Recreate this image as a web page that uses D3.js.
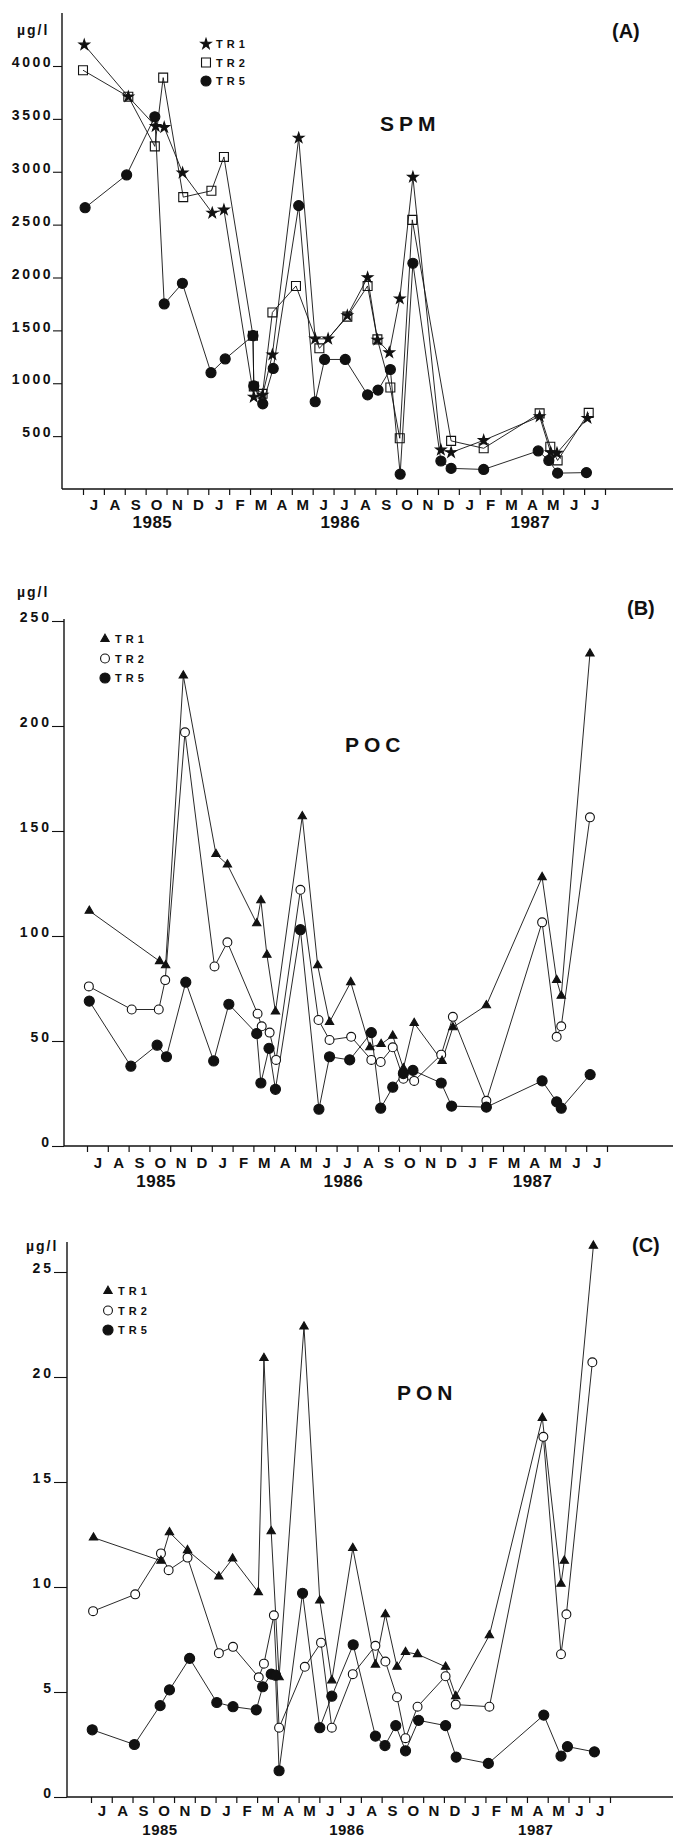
<!DOCTYPE html>
<html>
<head>
<meta charset="utf-8">
<script src="https://cdn.jsdelivr.net/npm/d3@7"></script>
<style>
  body { margin: 0; background: #fff; }
  svg text { font-family: "Liberation Sans", Helvetica, Arial, sans-serif; font-weight: bold; fill: #111; }
</style>
</head>
<body>
<div id="chart"></div>
<script>
// x values are months since 1 July 1985, y values in µg/l
const monthLabels = ["J","A","S","O","N","D","J","F","M","A","M","J","J","A","S","O","N","D","J","F","M","A","M","J","J"];
const yearLabels = ["1985", "1986", "1987"];
const yearTicks = [3.3, 12.3, 21.4];
const seriesNames = ["TR1", "TR2", "TR5"];

const spmTicks = [500, 1000, 1500, 2000, 2500, 3000, 3500, 4000];
const pocTicks = [0, 50, 100, 150, 200, 250];
const ponTicks = [0, 5, 10, 15, 20, 25];

// (A) SPM
const spmTR1 = [[0.06,4200],[2.17,3710],[3.48,3430],[3.89,3420],[4.77,2990],[6.19,2610],[6.75,2640],
  [8.18,870],[8.6,890],[9.07,1270],[10.33,3320],[11.12,1420],[11.74,1420],[12.66,1640],[13.63,2000],
  [14.1,1410],[14.67,1290],[15.17,1800],[15.8,2950],[17.14,370],[17.63,345],[19.19,460],[21.87,685],
  [22.4,345],[22.7,340],[24.16,670]];
const spmTR2 = [[0,3960],[2.17,3710],[3.44,3240],[3.84,3890],[4.8,2760],[6.15,2820],[6.75,3140],
  [8.14,1450],[8.18,970],[8.6,900],[9.07,1670],[10.2,1920],[11.32,1330],[12.66,1630],[13.63,1920],
  [14.1,1415],[14.72,960],[15.17,480],[15.77,2545],[17.63,455],[19.19,385],[21.87,715],[22.38,400],
  [22.73,270],[24.22,720]];
const spmTR5 = [[0.1,2660],[2.09,2970],[3.44,3520],[3.89,1750],[4.76,1945],[6.13,1100],[6.81,1230],
  [8.14,1450],[8.18,975],[8.61,805],[9.11,1140],[10.33,2680],[11.12,825],[11.57,1225],[12.56,1225],
  [13.63,890],[14.13,935],[14.72,1130],[15.19,140],[15.8,2135],[17.14,265],[17.63,195],[19.19,185],
  [21.8,360],[22.31,270],[22.73,150],[24.11,155]];

// (B) POC
const pocTR1 = [[0.11,112],[3.49,88],[3.78,86],[4.63,224],[6.2,139],[6.75,134],[8.16,106],[8.36,117],
  [8.65,91],[9.06,64],[10.35,157],[11.09,86],[11.66,59],[12.68,78],[13.6,47],[14.14,48.5],[14.7,52.5],
  [15.21,37],[15.73,58.5],[17.07,40.5],[17.59,56.5],[19.2,67],[21.88,128],[22.58,79],[22.8,71.5],[24.18,234.5]];
const pocTR2 = [[0.09,76],[2.15,65],[3.45,65],[3.76,79],[4.71,197],[6.13,85.5],[6.75,97],[8.2,63],
  [8.4,57],[8.78,54],[9.09,41],[10.26,122],[11.13,60],[11.66,50.5],[12.7,52],[13.67,41],[14.12,40],
  [14.7,47],[15.21,32],[15.73,31],[17.03,43.5],[17.59,61.5],[19.2,21.5],[21.88,106.5],[22.58,52],
  [22.8,57],[24.18,156.5]];
const pocTR5 = [[0.11,69],[2.11,38],[3.37,48],[3.82,42.5],[4.75,78],[6.09,40.5],[6.82,67.5],[8.16,53.5],
  [8.36,30],[8.75,46.5],[9.06,27],[10.26,103],[11.15,17.5],[11.66,42.5],[12.63,41],[13.67,54],[14.12,18],
  [14.7,28],[15.21,34.5],[15.67,36],[17.03,30],[17.53,19],[19.2,18.5],[21.88,31],[22.58,21],[22.8,18],[24.19,34]];

// (C) PON
const ponTR1 = [[0.12,12.35],[3.37,11.25],[3.78,12.6],[4.65,11.75],[6.16,10.5],[6.82,11.35],[8.06,9.75],
  [8.33,20.9],[8.68,12.65],[9.06,5.7],[10.26,22.4],[11.02,9.35],[11.6,5.55],[12.61,11.85],[13.7,6.3],
  [14.18,8.7],[14.74,6.2],[15.15,6.9],[15.73,6.8],[17.08,6.2],[17.57,4.8],[19.19,7.7],[21.74,18.05],
  [22.64,10.15],[22.8,11.25],[24.2,26.25]];
const ponTR2 = [[0.1,8.85],[2.13,9.65],[3.37,11.6],[3.74,10.8],[4.65,11.4],[6.16,6.85],[6.84,7.15],
  [8.08,5.7],[8.33,6.35],[8.81,8.65],[9.06,3.3],[10.3,6.2],[11.08,7.35],[11.6,3.3],[12.61,5.85],
  [13.7,7.2],[14.18,6.45],[14.74,4.75],[15.15,2.8],[15.73,4.3],[17.08,5.75],[17.57,4.4],[19.19,4.3],
  [21.79,17.15],[22.64,6.8],[22.9,8.7],[24.15,20.7]];
const ponTR5 = [[0.06,3.2],[2.09,2.5],[3.33,4.35],[3.78,5.1],[4.75,6.6],[6.06,4.5],[6.84,4.3],[7.96,4.15],
  [8.27,5.25],[8.68,5.85],[8.89,5.8],[9.06,1.25],[10.19,9.7],[11.02,3.3],[11.6,4.8],[12.63,7.25],
  [13.7,2.9],[14.16,2.45],[14.68,3.4],[15.15,2.2],[15.78,3.65],[17.08,3.4],[17.59,1.9],[19.14,1.6],
  [21.81,3.9],[22.64,1.95],[22.95,2.4],[24.25,2.15]];

const width = 673, height = 1839;

const svg = d3.select("#chart").append("svg")
    .attr("width", width)
    .attr("height", height);

// marker styles
const markers = {
  star:     {type: d3.symbolStar,     size: 34, fill: "#111"},
  square:   {type: d3.symbolSquare,   size: 80, fill: "none"},
  dot:      {type: d3.symbolCircle,   size: 80, fill: "#111"},
  triangle: {type: d3.symbolTriangle, size: 30, fill: "#111"},
  ring:     {type: d3.symbolCircle,   size: 62, fill: "#fff"}
};

function drawMarker(g, m, px, py) {
  g.append("path")
    .attr("transform", "translate(" + px + "," + py + ")")
    .attr("d", d3.symbol().type(m.type).size(m.size)())
    .attr("fill", m.fill)
    .attr("stroke", "#111")
    .attr("stroke-width", 1.1);
}

function panel(o) {
  const g = svg.append("g");
  const x = d3.scaleLinear().domain([0, 25]).range(o.xRange);
  const y = d3.scaleLinear().domain(o.yDomain).range(o.yRange);
  const base = y(0);

  // y axis
  const ya = g.append("g")
      .attr("transform", "translate(" + o.axisX + ",0)")
      .call(d3.axisLeft(y).tickValues(o.yTicks).tickSize(o.tickLen).tickPadding(0).tickFormat(d3.format("d")));
  ya.select(".domain").remove();
  ya.selectAll("line").attr("stroke", "#111").attr("stroke-width", 1.1);
  ya.selectAll("text")
      .attr("dy", "0.05em")
      .style("font-size", "14px")
      .style("letter-spacing", o.tickSpacing + "px");

  g.append("line")
      .attr("x1", o.axisX).attr("x2", o.axisX)
      .attr("y1", o.axisTop).attr("y2", base)
      .attr("stroke", "#111").attr("stroke-width", 1.4);

  // x axis: month ticks, month letters, years
  g.append("line")
      .attr("x1", o.axisX).attr("x2", width)
      .attr("y1", base).attr("y2", base)
      .attr("stroke", "#111").attr("stroke-width", 1.4);

  const xa = g.append("g")
      .attr("transform", "translate(0," + base + ")")
      .call(d3.axisBottom(x).tickValues(d3.range(26)).tickSize(6).tickFormat(""));
  xa.select(".domain").remove();
  xa.selectAll("line").attr("stroke", "#111").attr("stroke-width", 1.2);

  const ma = g.append("g")
      .attr("transform", "translate(0," + o.monthY + ")")
      .call(d3.axisBottom(x).tickValues(d3.range(25).map(i => i + 0.5))
        .tickSize(0).tickPadding(0).tickFormat((d, i) => monthLabels[i]));
  ma.select(".domain").remove();
  ma.selectAll("text").attr("y", 0).attr("dy", 0).style("font-size", "15px");

  const yra = g.append("g")
      .attr("transform", "translate(0," + o.yearY + ")")
      .call(d3.axisBottom(x).tickValues(yearTicks)
        .tickSize(0).tickPadding(0).tickFormat((d, i) => yearLabels[i]));
  yra.select(".domain").remove();
  yra.selectAll("text").attr("y", 0).attr("dy", 0).style("font-size", o.yearFont + "px").style("letter-spacing", "0.5px");

  // unit, title, panel letter
  g.append("text").attr("x", o.unitX).attr("y", o.unitY)
      .style("font-size", "14px").style("letter-spacing", "2px").text("µg/l");
  g.append("text").attr("x", o.titleX).attr("y", o.titleY)
      .style("font-size", "21px").style("letter-spacing", "5px").text(o.title);
  g.append("text").attr("x", o.letterX).attr("y", o.letterY)
      .style("font-size", "20px").text(o.letter);

  // series
  const line = d3.line().x(d => x(d[0])).y(d => y(d[1]));
  o.series.forEach(s => {
    g.append("path")
        .datum(s.data)
        .attr("fill", "none")
        .attr("stroke", "#111")
        .attr("stroke-width", 0.9)
        .attr("d", line);
  });
  o.drawOrder.forEach(i => {
    const s = o.series[i];
    s.data.forEach(d => drawMarker(g, markers[s.marker], x(d[0]), y(d[1])));
  });

  // legend
  o.series.forEach((s, i) => {
    const ly = o.legendY + i * o.legendGap;
    drawMarker(g, markers[s.marker], o.legendX, ly);
    g.append("text")
        .attr("x", o.legendX + 10)
        .attr("y", ly + 4)
        .style("font-size", "11px")
        .style("letter-spacing", "4px")
        .text(seriesNames[i]);
  });
}

panel({
  xRange: [83, 605], yDomain: [0, 4000], yRange: [489, 66], yTicks: spmTicks,
  axisX: 62, axisTop: 13, tickLen: 9, tickSpacing: 2.5,
  monthY: 510, yearY: 528, yearFont: 17,
  unitX: 17, unitY: 35, title: "SPM", titleX: 380, titleY: 131, letter: "(A)", letterX: 612, letterY: 38,
  legendX: 206, legendY: 44, legendGap: 18.5,
  series: [{data: spmTR1, marker: "star"}, {data: spmTR2, marker: "square"}, {data: spmTR5, marker: "dot"}],
  drawOrder: [1, 2, 0]
});

panel({
  xRange: [87, 607], yDomain: [0, 250], yRange: [1146, 621], yTicks: pocTicks,
  axisX: 64, axisTop: 619, tickLen: 12, tickSpacing: 3,
  monthY: 1168, yearY: 1187, yearFont: 17,
  unitX: 17, unitY: 597, title: "POC", titleX: 345, titleY: 752, letter: "(B)", letterX: 627, letterY: 615,
  legendX: 105, legendY: 639, legendGap: 19.5,
  series: [{data: pocTR1, marker: "triangle"}, {data: pocTR2, marker: "ring"}, {data: pocTR5, marker: "dot"}],
  drawOrder: [1, 0, 2]
});

panel({
  xRange: [91, 610], yDomain: [0, 25], yRange: [1797, 1272], yTicks: ponTicks,
  axisX: 67, axisTop: 1242, tickLen: 13, tickSpacing: 3,
  monthY: 1816, yearY: 1835, yearFont: 15,
  unitX: 26, unitY: 1251, title: "PON", titleX: 397, titleY: 1400, letter: "(C)", letterX: 632, letterY: 1252,
  legendX: 108, legendY: 1291, legendGap: 19.5,
  series: [{data: ponTR1, marker: "triangle"}, {data: ponTR2, marker: "ring"}, {data: ponTR5, marker: "dot"}],
  drawOrder: [1, 0, 2]
});
</script>
</body>
</html>
